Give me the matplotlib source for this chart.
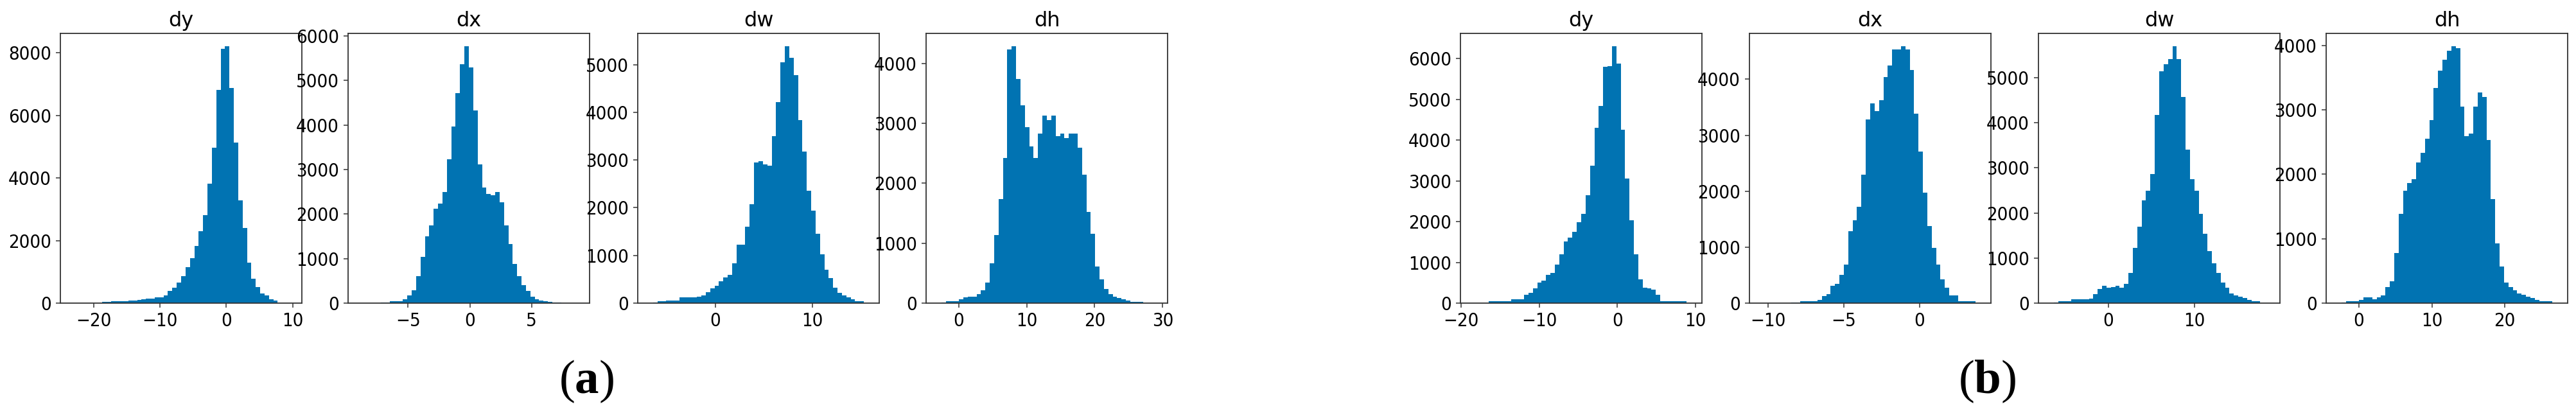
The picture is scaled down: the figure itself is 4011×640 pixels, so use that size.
import numpy as np
import matplotlib.pyplot as plt

# ------------------------------------
# Histogram counts (50 bins per panel)
# ------------------------------------
titles = ["dy", "dx", "dw", "dh"]

# (a) bin ranges
a_dy_range = (-23.38, 9.74)
a_dx_range = (-8.97, 8.81)
a_dw_range = (-6.84, 15.76)
a_dh_range = (-3.17, 29.11)

a_dy = [2, 0, 1, 3, 2, 5, 8, 40, 50, 55, 60, 65, 70, 75, 80, 100, 130, 140, 150, 180,
        190, 250, 390, 490, 660, 860, 1140, 1440, 1820, 2290, 2820, 3810, 4970, 6810, 8120,
        8210, 6870, 5130, 3290, 2400, 1300, 770, 520, 300, 250, 130, 75, 8, 3, 1]
a_dx = [0, 1, 2, 3, 5, 10, 20, 40, 45, 50, 90, 170, 285, 605, 1045, 1500, 1750, 2125, 2240, 2490,
        3230, 3970, 4710, 5360, 5770, 5290, 4330, 3110, 2600, 2450, 2430, 2490, 2260, 1750, 1320,
        880, 600, 400, 270, 140, 90, 60, 40, 30, 15, 8, 4, 2, 1, 1]
a_dw = [3, 10, 40, 45, 50, 50, 55, 115, 120, 125, 125, 130, 160, 228, 304, 362, 451, 540, 598, 830,
        1219, 1225, 1598, 2067, 2951, 2973, 2906, 2884, 3500, 4210, 5049, 5384, 5147, 4772, 3835,
        3183, 2362, 1933, 1455, 1018, 696, 527, 326, 219, 160, 116, 85, 45, 38, 5]
a_dh = [2, 10, 28, 28, 30, 64, 100, 103, 105, 145, 209, 340, 660, 1138, 1734, 2422, 4230, 4284, 3734, 3301,
        2936, 2610, 2420, 2830, 3131, 3053, 3131, 2780, 2823, 2752, 2830, 2830, 2592, 2138, 1518,
        1156, 613, 400, 234, 145, 110, 82, 67, 39, 22, 20, 18, 3, 2, 1]

# (b) bin ranges
b_dy_range = (-18.70, 9.42)
b_dx_range = (-10.51, 3.98)
b_dw_range = (-6.80, 18.61)
b_dh_range = (-2.97, 27.09)

b_dy = [1, 2, 3, 5, 40, 42, 42, 44, 45, 90, 94, 96, 199, 256, 355, 502, 554, 700, 737, 946,
        1192, 1505, 1600, 1756, 1992, 2190, 2645, 3377, 4302, 4830, 5792, 5818, 6300, 5870, 4255,
        3053, 2028, 1192, 580, 385, 370, 330, 200, 42, 42, 42, 42, 42, 40, 3]
b_dx = [0, 0, 1, 1, 2, 3, 5, 8, 12, 34, 34, 35, 36, 61, 126, 156, 308, 347, 507, 690,
        1288, 1478, 1726, 2297, 3280, 3566, 3432, 3630, 4034, 4250, 4530, 4535, 4590, 4530, 4160,
        3380, 2710, 1973, 1380, 985, 690, 430, 270, 137, 137, 34, 34, 34, 34, 3]
b_dw = [3, 8, 42, 42, 42, 88, 90, 90, 92, 95, 193, 311, 382, 335, 358, 382, 335, 429, 675, 1222,
        1693, 2278, 2495, 2858, 4170, 5146, 5302, 5415, 5698, 5406, 4566, 3410, 2750, 2495, 1986,
        1538, 1151, 887, 665, 453, 349, 217, 170, 137, 108, 75, 38, 38, 5, 2]
b_dh = [2, 8, 28, 30, 32, 53, 86, 88, 63, 86, 119, 251, 340, 779, 1389, 1746, 1868, 1924, 2181, 2330,
        2551, 2842, 3343, 3607, 3782, 3914, 3987, 3957, 3046, 2587, 2634, 3046, 3271, 3195, 2535,
        1614, 927, 571, 317, 251, 195, 152, 125, 102, 76, 53, 30, 30, 28, 3]

group_labels = ["a", "b"]

# ------------------------------------
# Figure layout
# ------------------------------------
W, H = 4011, 640
BLUE = "#0173b2"
SPINE = "#333333"

plt.rcParams["font.family"] = ["DejaVu Sans"]
plt.rcParams["mathtext.fontset"] = "custom"
plt.rcParams["mathtext.rm"] = "Liberation Serif"
plt.rcParams["mathtext.bf"] = "Liberation Serif:bold"

fig = plt.figure(figsize=(W / 100, H / 100), dpi=100)

panels = [
    (94, a_dy, a_dy_range), (542, a_dx, a_dx_range),
    (993, a_dw, a_dw_range), (1442, a_dh, a_dh_range),
    (2274, b_dy, b_dy_range), (2724, b_dx, b_dx_range),
    (3174, b_dw, b_dw_range), (3622, b_dh, b_dh_range),
]

ax_bottom = 1 - 472 / H
ax_height = (472 - 52) / H
ax_width = 376 / W

for i, (left, counts, (lo, hi)) in enumerate(panels):
    ax = fig.add_axes([left / W, ax_bottom, ax_width, ax_height])
    edges = np.linspace(lo, hi, len(counts) + 1)
    ax.stairs(counts, edges, fill=True, color=BLUE, linewidth=0)
    ax.set_title(titles[i % 4], fontsize=23, pad=8)
    ax.tick_params(labelsize=21, length=5, width=1.1, pad=5, color=SPINE)
    for lab in ax.get_xticklabels() + ax.get_yticklabels():
        lab.set_fontstretch("condensed")
    for sp in ax.spines.values():
        sp.set_color(SPINE)
        sp.set_linewidth(1.3)

# Panel labels
label_x = [913, 3094]
for x, g in zip(label_x, group_labels):
    fig.text(x / W, 1 - 612 / H, r"$\mathrm{(}\mathbf{%s}\mathrm{)}$" % g,
             fontsize=54, ha="center", va="baseline")

fig.savefig("out.png", dpi=100)
plt.close(fig)
